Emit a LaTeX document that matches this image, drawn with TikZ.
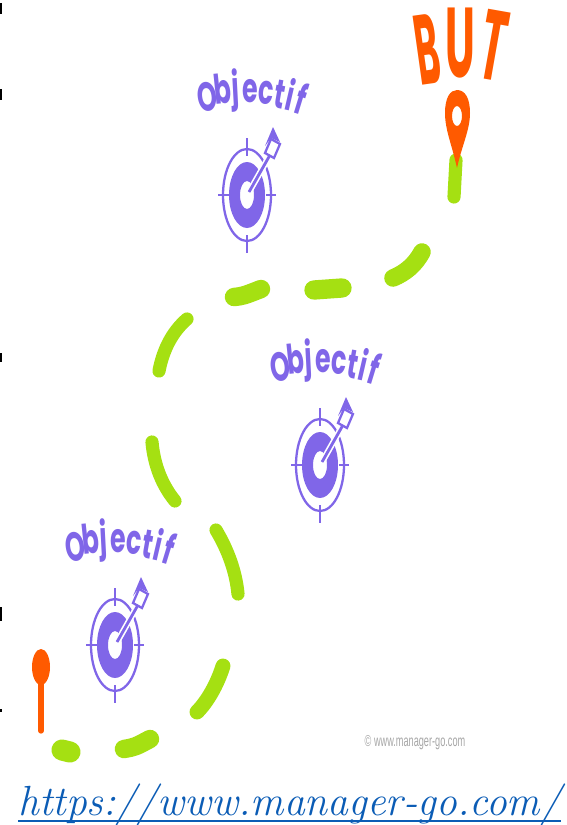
\documentclass[tikz,border=0pt]{standalone}
\usepackage{fontspec}
\usepackage{xcolor}
\newfontfamily\objfont{Poppins}
\newfontfamily\markfont{Liberation Sans}
\definecolor{objpurple}{HTML}{8066E8}
\definecolor{pathgreen}{HTML}{A5E012}
\definecolor{pinorange}{HTML}{FF5A00}
\definecolor{urlblue}{HTML}{0B5CB5}
\tikzset{
    objletter/.style={text=objpurple, inner sep=0pt, anchor=base, font=\objfont\bfseries\fontsize{16}{16}\selectfont},
    butletter/.style={text=pinorange, inner sep=0pt, font=\objfont\bfseries\fontsize{24}{24}\selectfont},
    dashpiece/.style={pathgreen, line cap=round},
    pics/objectifmark/.style={code={
        % Word over the target, one letter at a time along an arc
        \foreach \ch/\px/\py/\rot in {O/-38/-84/8, b/-23/-91/6, j/-11/-94/3, e/3/-93/0, c/18/-91/-5, t/31/-87/-10, i/40/-85/-13, f/50/-81/-17}
            \node[objletter, rotate=\rot, xscale=0.9, yscale=1.45] (l\ch) at (\px,\py) {\ch};
        % Rings
        \draw[objpurple, line width=1.3pt] (0,0) ellipse [x radius=24, y radius=46];
        \fill[objpurple, even odd rule] (0,0) ellipse [x radius=18, y radius=33] (0,0) ellipse [x radius=7, y radius=14];
        % Ticks
        \draw[objpurple, line width=1.3pt] (-29,0) -- (-18,0) (19,0) -- (29,0) (0,-57) -- (0,-39) (0,40) -- (0,58);
        % Arrow with its white halo
        \draw[white, line width=3.5pt] (2,-3) -- (23,-40);
        \draw[objpurple, line width=1.6pt] (2,-3) -- (23,-40);
        \fill[objpurple] (26,-68) -- (33,-53) -- (24,-57) -- (18,-49) -- cycle;
        \draw[objpurple, line width=1.3pt] (24,-56) -- (33,-51) -- (27,-37) -- (18,-42) -- cycle;
    }}
}
\begin{document}
\begin{tikzpicture}[x=0.02cm, y=-0.02cm]
    \useasboundingbox (0,0) rectangle (566,825);

    % Cut-off marks on the left edge
    \foreach \ya/\yb in {3/14, 89/100, 353/362, 607/621, 709/712}
        \fill[black] (0,\ya) rectangle (2,\yb);

    % Path pieces from start to goal
    \draw[dashpiece, line width=12pt] (62,750) -- (70,752);
    \draw[dashpiece, line width=10.5pt] (124,749) .. controls (135,747) .. (150,739);
    \draw[dashpiece, line width=8.5pt] (197,712) .. controls (207,702) and (217,685) .. (223,666);
    \draw[dashpiece, line width=7.5pt] (216,530) .. controls (228,550) and (236,572) .. (238,594);
    \draw[dashpiece, line width=7.5pt] (152,442) .. controls (154,465) and (162,485) .. (175,501);
    \draw[dashpiece, line width=7.5pt] (159,371) .. controls (163,350) and (172,332) .. (187,319);
    \draw[dashpiece, line width=10.5pt] (234,297) .. controls (243,296) .. (261,289);
    \draw[dashpiece, line width=11pt] (314,290) -- (342,288);
    \draw[dashpiece, line width=10pt] (393,278) .. controls (405,273) and (415,265) .. (422,252);
    \draw[dashpiece, line width=7.5pt] (456,160) -- (454,197);

    % Start pin
    \fill[pinorange] (41,667) ellipse [x radius=9, y radius=18];
    \draw[pinorange, line width=3pt, line cap=round] (41,680) -- (41,731);

    % Goal pin
    \fill[pinorange, even odd rule] (457,168) .. controls (452,145) and (445,130) .. (445,113)
        .. controls (445,98) and (450,90) .. (457,90)
        .. controls (465,90) and (470,98) .. (470,113)
        .. controls (470,130) and (462,145) .. cycle
        (457,116) ellipse [x radius=5, y radius=10];

    % Goal word
    \node[butletter, rotate=8, xscale=0.85, yscale=2.35] (butB) at (427,49) {B};
    \node[butletter, yscale=2.35] (butU) at (460,43) {U};
    \node[butletter, rotate=-10, yscale=2.35] (butT) at (494,45) {T};

    % Targets
    \pic (first) at (115,645) {objectifmark};
    \pic (second) at (320,465) {objectifmark};
    \pic (third) at (247,195) {objectifmark};

    % Footer
    \node[text=gray!70, inner sep=0pt, xscale=0.58, font=\markfont\fontsize{9}{9}\selectfont] (mark) at (415,743) {© www.manager-go.com};
    \node[text=urlblue, inner sep=0pt, anchor=base west, xscale=0.985, font=\itshape\fontsize{24}{24}\selectfont] (url) at (18,815) {https://www.manager-go.com/};
    \draw[urlblue, line width=1pt] ([yshift=-3.5pt]url.base west) -- ([yshift=-3.5pt]url.base east);
\end{tikzpicture}
\end{document}
